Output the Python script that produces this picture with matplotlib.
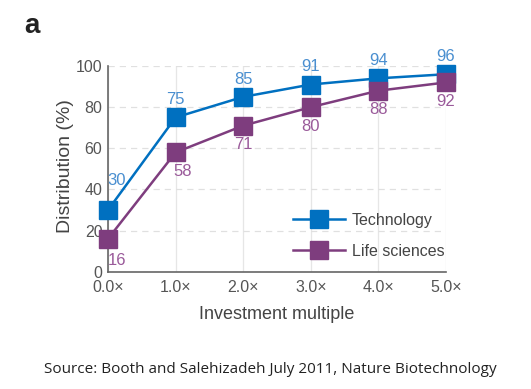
import matplotlib
matplotlib.use("Agg")
import matplotlib.pyplot as plt

multiples = [0, 1, 2, 3, 4, 5]
tick_labels = ["0.0×", "1.0×", "2.0×", "3.0×", "4.0×", "5.0×"]
technology = [30, 75, 85, 91, 94, 96]
life_sciences = [16, 58, 71, 80, 88, 92]

plt.rcParams['font.family'] = ['Liberation Sans', 'DejaVu Sans']

fig = plt.figure(figsize=(5.31, 3.89), dpi=100)
ax = fig.add_axes([108 / 531, 1 - 271.7 / 389, 338 / 531, 205.7 / 389])

blue = '#0070C0'
purple = '#7E3D7E'
blue_txt = '#4A8FD0'
purple_txt = '#9A5A9A'

ax.plot(multiples, technology, color=blue, lw=1.8, marker='s', ms=12.5, label='Technology', clip_on=False, zorder=3)
ax.plot(multiples, life_sciences, color=purple, lw=1.8, marker='s', ms=12.5, label='Life sciences', clip_on=False, zorder=3)

tech_off = [(6.5, 18), (0, 9.5), (0, 9.5), (0, 9.5), (0, 9.5), (0, 9.5)]
life_off = [(6.5, -10), (5, -8.5), (0, -8.5), (0, -8.5), (0, -8.5), (0, -8.5)]
for x, v, o in zip(multiples, technology, tech_off):
    ax.annotate(str(v), (x, v), xytext=o, textcoords='offset points', ha='center', va='baseline',
                color=blue_txt, fontsize=12, zorder=4)
for x, v, o in zip(multiples, life_sciences, life_off):
    ax.annotate(str(v), (x, v), xytext=o, textcoords='offset points', ha='center', va='top',
                color=purple_txt, fontsize=12, zorder=4)

ax.set_xlim(0, 5)
ax.set_ylim(0, 100)
ax.set_xticks(multiples)
ax.set_xticklabels(tick_labels)
ax.set_yticks([0, 20, 40, 60, 80, 100])
ax.tick_params(length=0, labelsize=11.5, colors='#555555')
ax.tick_params(axis='x', pad=6)
ax.tick_params(axis='y', pad=4)
ax.xaxis.grid(True, color='#e6e6e6', lw=0.9, ls='-')
ax.yaxis.grid(True, color='#e0e0e0', lw=0.9, ls=(0, (5, 4)))
ax.set_axisbelow(True)
for s in ['top', 'right']:
    ax.spines[s].set_visible(False)
for s in ['left', 'bottom']:
    ax.spines[s].set_color('#666666')
    ax.spines[s].set_linewidth(1.2)

ax.set_ylabel('Distribution (%)', fontsize=14, color='#444444', va='center')
ax.yaxis.set_label_coords(-0.127, 0.515)
ax.set_xlabel('Investment multiple', fontsize=13, color='#444444', labelpad=8)

leg = fig.legend(*ax.get_legend_handles_labels(), loc='center left', frameon=False, fontsize=11.5,
                 handlelength=3.25, labelspacing=1.0, borderpad=0, borderaxespad=0,
                 bbox_to_anchor=(293 / 531, 1 - 236 / 389), handletextpad=0.45)
for t in leg.get_texts():
    t.set_color('#444444')

fig.text(0.045, 0.915, 'a', fontsize=20, fontweight='bold', color='#222222')
fig.text(0.51, 0.04, 'Source: Booth and Salehizadeh July 2011, Nature Biotechnology',
         ha='center', fontsize=11, family=['Open Sans', 'DejaVu Sans'], color='#222222')

fig.savefig('out.png', dpi=100)
